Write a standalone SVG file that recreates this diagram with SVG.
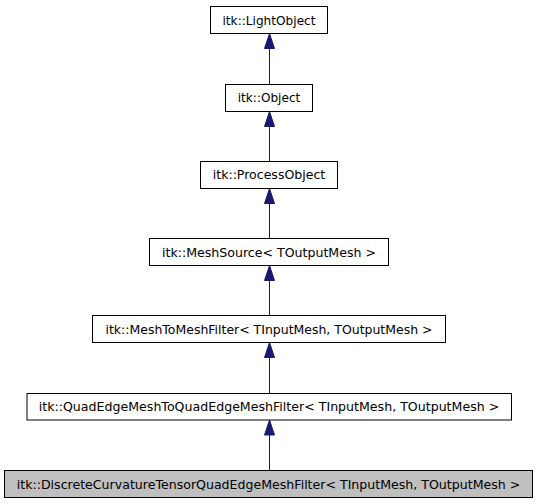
<svg xmlns="http://www.w3.org/2000/svg" width="539" height="504" viewBox="0 0 539 504">
<style>
.box{fill:#ffffff;stroke:#000000;stroke-width:1}
.cur{fill:#bfbfbf;stroke:#000000;stroke-width:1}
.lbl{font-family:"DejaVu Sans",sans-serif;font-size:12.3px;fill:#000000;text-anchor:middle}
.edge line{stroke:#191970;stroke-width:1}
.edge polygon{fill:#191970;stroke:#191970;stroke-width:1}
</style>
<rect width="539" height="504" fill="#ffffff"/>
<g id="connectors" class="edge">
<line x1="269.5" y1="84.5" x2="269.5" y2="48.5"/><polygon points="269.5,33.5 264.5,48.5 274.5,48.5"/>
<line x1="269.5" y1="161.5" x2="269.5" y2="126.5"/><polygon points="269.5,111.5 264.5,126.5 274.5,126.5"/>
<line x1="269.5" y1="238.5" x2="269.5" y2="203.5"/><polygon points="269.5,188.5 264.5,203.5 274.5,203.5"/>
<line x1="269.5" y1="315.5" x2="269.5" y2="280.5"/><polygon points="269.5,265.5 264.5,280.5 274.5,280.5"/>
<line x1="269.5" y1="393.5" x2="269.5" y2="357.5"/><polygon points="269.5,342.5 264.5,357.5 274.5,357.5"/>
<line x1="269.5" y1="470.5" x2="269.5" y2="435"/><polygon points="269.5,420 264.5,435 274.5,435"/>
</g>
<g id="node-lightobject"><rect class="box" x="210.5" y="6.5" width="117" height="27"/><text class="lbl" x="269" y="24.7" textLength="93" lengthAdjust="spacingAndGlyphs">itk::LightObject</text></g>
<g id="node-object"><rect class="box" x="225.5" y="84.5" width="87" height="27"/><text class="lbl" x="269" y="102.2" textLength="62.5" lengthAdjust="spacingAndGlyphs">itk::Object</text></g>
<g id="node-processobject"><rect class="box" x="200.5" y="161.5" width="137" height="27"/><text class="lbl" x="269" y="179.2" textLength="112.5" lengthAdjust="spacingAndGlyphs">itk::ProcessObject</text></g>
<g id="node-meshsource"><rect class="box" x="149.5" y="238.5" width="239" height="27"/><text class="lbl" x="269" y="256.7" textLength="214" lengthAdjust="spacingAndGlyphs">itk::MeshSource&lt; TOutputMesh &gt;</text></g>
<g id="node-meshtomeshfilter"><rect class="box" x="92.5" y="315.5" width="353" height="27"/><text class="lbl" x="269" y="333.7" textLength="327" lengthAdjust="spacingAndGlyphs">itk::MeshToMeshFilter&lt; TInputMesh, TOutputMesh &gt;</text></g>
<g id="node-quadedge"><rect class="box" x="27" y="393.5" width="484.5" height="26.5"/><text class="lbl" x="269" y="411.2" textLength="460.5" lengthAdjust="spacingAndGlyphs">itk::QuadEdgeMeshToQuadEdgeMeshFilter&lt; TInputMesh, TOutputMesh &gt;</text></g>
<g id="node-discrete"><rect class="cur" x="4.5" y="470.5" width="528" height="27"/><text class="lbl" x="268.5" y="488.8" textLength="503.5" lengthAdjust="spacingAndGlyphs">itk::DiscreteCurvatureTensorQuadEdgeMeshFilter&lt; TInputMesh, TOutputMesh &gt;</text></g>
</svg>
